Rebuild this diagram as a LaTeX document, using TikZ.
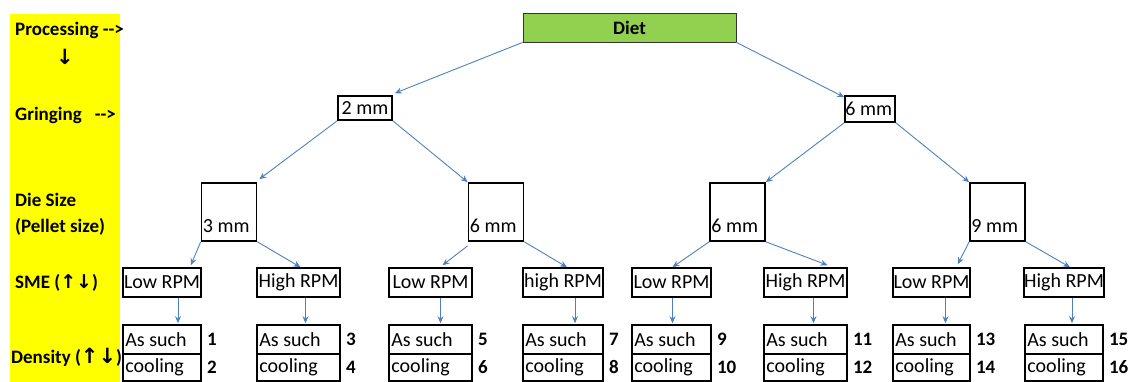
\documentclass[tikz,border=0pt]{standalone}
\usepackage{fontspec}
\setmainfont{Carlito}
\newfontfamily\symfont{DejaVu Sans}
\usetikzlibrary{arrows.meta}
\definecolor{arrowblue}{HTML}{4F81BD}
\definecolor{dietgreen}{HTML}{92D050}
\definecolor{bandyellow}{HTML}{FFFF00}
\begin{document}
\begin{tikzpicture}[x=1pt,y=-1pt,
  txt/.style={font=\fontsize{20}{23}\selectfont, inner sep=0pt},
  lab/.style={font=\fontsize{19}{22}\selectfont\bfseries, inner sep=0pt, anchor=west},
  num/.style={font=\fontsize{19}{22}\selectfont\bfseries, inner sep=0pt, anchor=west},
  box/.style={draw=black, line width=1.6pt, fill=white, inner sep=0pt},
  arr/.style={draw=arrowblue, line width=0.9pt, -{Stealth[length=7pt,width=6pt]}}
]
\useasboundingbox (0,0) rectangle (1136,382);
\fill[bandyellow] (10,14) rectangle (120,382);
% left labels
\node[lab] (lp) at (15,30) {Processing -{}->};
\node[lab, anchor=center] (lpa) at (65,57) {\symfont\bfseries\fontsize{21}{22}\selectfont ↓};
\node[lab] (lg) at (15,115) {Gringing\hspace{13pt}-{}->};
\node[lab] (ld1) at (15,200) {Die Size};
\node[lab] (ld2) at (15,227) {(Pellet size)};
\node[lab] (ls) at (15,283) {SME ({\symfont\bfseries ↑↓})};
\node[lab] (lden) at (11,357) {Density ({\symfont\bfseries\fontsize{21}{22}\selectfont ↑↓})};
% top
\node[draw=black!80, line width=0.8pt, fill=dietgreen, minimum width=213pt, minimum height=29pt, inner sep=0pt,
  font=\fontsize{19}{22}\selectfont\bfseries] (diet) at (629.5,27.5) {Diet};
% grinding
\node[box, minimum width=54pt, minimum height=24pt] (t1) at (365,108) {};
\node[txt] (t1t) at (t1.center) {2 mm};
\node[box, minimum width=50pt, minimum height=26pt] (t2) at (870,109) {};
\node[txt, anchor=west] (t2t) at ([xshift=1pt]t2.west) {6 mm};
% die size
\foreach \n/\cx/\t in {d1/229/3 mm, d2/496/6 mm, d3/737.5/6 mm, d4/997.5/9 mm}{
  \node[box, minimum width=55pt, minimum height=58pt] (\n) at (\cx,212) {};
  \node[txt, anchor=south west] (\n t) at ([xshift=2pt,yshift=9pt]\n.south west) {\t};
}
% RPM and density
\foreach \i/\a/\b/\t/\na/\nb in {1/123/201/Low RPM/1/2, 2/257/340/High RPM/3/4, 3/389/472/Low RPM/5/6, 4/523/603/high RPM/7/8,
  5/632/711/Low RPM/9/10, 6/764/847/High RPM/11/12, 7/893/970/Low RPM/13/14, 8/1025/1103/High RPM/15/16}{
  \node[box, minimum width={\b-\a}, minimum height=29pt, txt] (r\i) at ({(\a+\b)/2},282.5) {\t};
  \node[box, minimum width={\b-\a}, minimum height=29pt] (a\i) at ({(\a+\b)/2},339.5) {};
  \node[box, minimum width={\b-\a}, minimum height=27pt] (c\i) at ({(\a+\b)/2},367.5) {};
  \node[txt, anchor=west] (a\i t) at ([xshift=3pt]a\i.west) {As such};
  \node[txt, anchor=west] (c\i t) at ([xshift=3pt]c\i.west) {cooling};
  \node[num] (n\i a) at ([xshift=5pt]a\i.east) {\na};
  \node[num] (n\i b) at ([xshift=5pt]c\i.east) {\nb};
}
% arrows
\draw[arr] (diet.south west) -- ([xshift=2pt,yshift=2pt]t1.north east);
\draw[arr] (diet.south east) -- ([xshift=0pt,yshift=-2pt]t2.north west);
\draw[arr] (t1.south west) -- ([xshift=2pt,yshift=3pt]d1.north east);
\draw[arr] (t1.south east) -- (d2.north west);
\draw[arr] (t2.south west) -- (d3.north east);
\draw[arr] (t2.south east) -- (d4.north west);
\draw[arr] (d1.south west) -- ([xshift=-11pt,yshift=2pt]r1.north east);
\draw[arr] (d1.south east) -- ([xshift=2pt]r2.north);
\draw[arr] ([yshift=-4pt]d2.south west) -- ([xshift=12pt,yshift=2pt]r3.north);
\draw[arr] (d2.south east) -- ([xshift=4pt]r4.north);
\draw[arr] (d3.south west) -- ([xshift=1pt]r5.north);
\draw[arr] (d3.south east) -- ([xshift=22pt,yshift=2pt]r6.north);
\draw[arr] (d4.south west) -- ([xshift=-13pt,yshift=3pt]r7.north east);
\draw[arr] (d4.south east) -- ([xshift=6pt]r8.north);
\foreach \i/\o in {1/16,2/7,3/10,4/12,5/1,6/8,7/14,8/8}{
  \draw[arr] ([xshift=\o pt]r\i.south) -- ([xshift=\o pt,yshift=1pt]a\i.north);
}
\end{tikzpicture}
\end{document}
